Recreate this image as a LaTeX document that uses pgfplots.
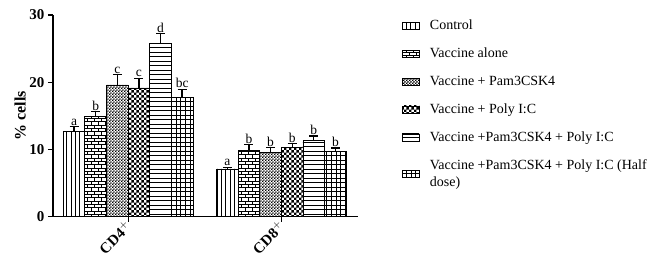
\documentclass[border=0pt]{standalone}
\usepackage{fontspec}
\setmainfont{Liberation Serif}
\usepackage{pgfplots}
\usepackage{pgfplotstable}
\pgfplotsset{compat=1.18}
\usetikzlibrary{patterns}

\pgfdeclarepatternformonly{pvl}{\pgfqpoint{-0.5pt}{-0.5pt}}{\pgfqpoint{4.8pt}{4.8pt}}{\pgfqpoint{4.3pt}{4.3pt}}{%
  \pgfsetlinewidth{0.7pt}%
  \pgfpathmoveto{\pgfqpoint{2.15pt}{-0.5pt}}%
  \pgfpathlineto{\pgfqpoint{2.15pt}{4.8pt}}%
  \pgfusepath{stroke}}
\pgfdeclarepatternformonly{phl}{\pgfqpoint{-0.5pt}{-0.5pt}}{\pgfqpoint{5pt}{5pt}}{\pgfqpoint{4.5pt}{4.5pt}}{%
  \pgfsetlinewidth{0.8pt}%
  \pgfpathmoveto{\pgfqpoint{-0.5pt}{2.25pt}}%
  \pgfpathlineto{\pgfqpoint{5pt}{2.25pt}}%
  \pgfusepath{stroke}}
\pgfdeclarepatternformonly{pgrid}{\pgfqpoint{-0.5pt}{-0.5pt}}{\pgfqpoint{5.2pt}{5pt}}{\pgfqpoint{4.7pt}{4.5pt}}{%
  \pgfsetlinewidth{1pt}%
  \pgfpathmoveto{\pgfqpoint{2.35pt}{-0.5pt}}%
  \pgfpathlineto{\pgfqpoint{2.35pt}{5pt}}%
  \pgfusepath{stroke}%
  \pgfsetlinewidth{0.6pt}%
  \pgfpathmoveto{\pgfqpoint{-0.5pt}{2.25pt}}%
  \pgfpathlineto{\pgfqpoint{5.2pt}{2.25pt}}%
  \pgfusepath{stroke}}
\pgfdeclarepatternformonly{pbrick}{\pgfqpoint{-0.5pt}{-0.5pt}}{\pgfqpoint{7.5pt}{7.1pt}}{\pgfqpoint{7pt}{6.6pt}}{%
  \pgfsetlinewidth{0.6pt}%
  \pgfpathmoveto{\pgfqpoint{-0.5pt}{0pt}}%
  \pgfpathlineto{\pgfqpoint{7.5pt}{0pt}}%
  \pgfpathmoveto{\pgfqpoint{-0.5pt}{3.3pt}}%
  \pgfpathlineto{\pgfqpoint{7.5pt}{3.3pt}}%
  \pgfpathmoveto{\pgfqpoint{0pt}{0pt}}%
  \pgfpathlineto{\pgfqpoint{0pt}{3.3pt}}%
  \pgfpathmoveto{\pgfqpoint{3.5pt}{3.3pt}}%
  \pgfpathlineto{\pgfqpoint{3.5pt}{6.6pt}}%
  \pgfusepath{stroke}}
\pgfdeclarepatternformonly{pfine}{\pgfqpoint{0pt}{0pt}}{\pgfqpoint{2.8pt}{2.8pt}}{\pgfqpoint{2.8pt}{2.8pt}}{%
  \pgfpathrectangle{\pgfqpoint{0pt}{0pt}}{\pgfqpoint{1.4pt}{1.4pt}}%
  \pgfpathrectangle{\pgfqpoint{1.4pt}{1.4pt}}{\pgfqpoint{1.4pt}{1.4pt}}%
  \pgfusepath{fill}}
\pgfdeclarepatternformonly{pcheck}{\pgfqpoint{0pt}{0pt}}{\pgfqpoint{5.4pt}{5.4pt}}{\pgfqpoint{5.4pt}{5.4pt}}{%
  \pgfpathrectangle{\pgfqpoint{0pt}{0pt}}{\pgfqpoint{2.7pt}{2.7pt}}%
  \pgfpathrectangle{\pgfqpoint{2.7pt}{2.7pt}}{\pgfqpoint{2.7pt}{2.7pt}}%
  \pgfusepath{fill}}

\pgfplotstableread{
x y err lab
0 12.65 0.75 a
1 7.1 0.25 a
}\tA
\pgfplotstableread{
x y err lab
0 14.95 0.65 b
1 9.8 0.9 b
}\tB
\pgfplotstableread{
x y err lab
0 19.6 1.5 c
1 9.5 0.8 b
}\tC
\pgfplotstableread{
x y err lab
0 19.15 1.45 c
1 10.3 0.6 b
}\tD
\pgfplotstableread{
x y err lab
0 25.8 1.4 d
1 11.4 0.6 b
}\tE
\pgfplotstableread{
x y err lab
0 17.7 1.25 bc
1 9.65 0.55 b
}\tF

\pgfplotsset{
  mybar/.style={draw=black, line width=0.8pt, fill=white,
    error bars/y dir=plus, error bars/y explicit,
    error bars/error bar style={line width=1.3pt, black},
    error bars/error mark options={rotate=90, mark size=4.5pt, line width=1.3pt, black}},
  mylab/.style={draw=none, fill=none, mark=none, forget plot, nodes near coords,
    point meta=explicit symbolic,
    nodes near coords style={anchor=south, inner sep=1pt, font=\fontsize{13.5}{15}\selectfont, black}},
}

\begin{document}
\begin{tikzpicture}
\path[use as bounding box] (-53pt,-40.3pt) rectangle (597pt,216.7pt);
\begin{axis}[
  at={(0,0)}, anchor=south west,
  ybar, bar width=0.141,
  scale only axis, width=305pt, height=201.7pt,
  xmin=-0.49, xmax=1.5, ymin=0, ymax=30,
  axis x line*=bottom, axis y line*=left,
  axis line style={-, line width=1.2pt, black},
  tick style={line width=1.2pt, black},
  major tick length=5pt, tick align=outside,
  ytick={0,10,20,30},
  xtick={0,1}, xticklabels={CD4$^{+}$, CD8$^{+}$},
  yticklabel style={font=\fontsize{15}{17}\selectfont\bfseries, /pgf/number format/assume math mode=true},
  xticklabel style={font=\fontsize{15}{17}\selectfont\bfseries, rotate=45, anchor=east, xshift=2pt, yshift=-2pt},
  ylabel={\% cells},
  ylabel style={font=\fontsize{16}{18}\selectfont\bfseries, at={(axis description cs:-0.108,0.5)}, anchor=center},
  legend cell align=left,
  legend style={at={(axis description cs:1.143,0.985)}, anchor=north west, draw=none, fill=none,
    inner sep=0pt, row sep=12.8pt, font=\fontsize{14}{16.5}\selectfont, cells={align=left},
    /tikz/every odd column/.append style={column sep=8.5pt}},
  legend image code/.code={\draw[#1, line width=0.6pt] (0pt,-3.5pt) rectangle (17pt,3.5pt);},
]
\addplot[mybar, bar shift=-0.3525, postaction={pattern=pvl}] table[x=x, y=y, y error=err]{\tA};
\addlegendentry{Control}
\addplot[mybar, bar shift=-0.2115, postaction={pattern=pbrick}] table[x=x, y=y, y error=err]{\tB};
\addlegendentry{Vaccine alone}
\addplot[mybar, bar shift=-0.0705, postaction={pattern=pfine}] table[x=x, y=y, y error=err]{\tC};
\addlegendentry{Vaccine + Pam3CSK4}
\addplot[mybar, bar shift=0.0705, postaction={pattern=pcheck}] table[x=x, y=y, y error=err]{\tD};
\addlegendentry{Vaccine + Poly I:C}
\addplot[mybar, bar shift=0.2115, postaction={pattern=phl}] table[x=x, y=y, y error=err]{\tE};
\addlegendentry{Vaccine +Pam3CSK4 + Poly I:C}
\addplot[mybar, bar shift=0.3525, postaction={pattern=pgrid}] table[x=x, y=y, y error=err]{\tF};
\addlegendentry{Vaccine +Pam3CSK4 + Poly I:C (Half\\dose)}

\addplot[mylab, bar shift=-0.3525] table[x=x, y expr=\thisrow{y}+\thisrow{err}, meta=lab]{\tA};
\addplot[mylab, bar shift=-0.2115] table[x=x, y expr=\thisrow{y}+\thisrow{err}, meta=lab]{\tB};
\addplot[mylab, bar shift=-0.0705] table[x=x, y expr=\thisrow{y}+\thisrow{err}, meta=lab]{\tC};
\addplot[mylab, bar shift=0.0705] table[x=x, y expr=\thisrow{y}+\thisrow{err}, meta=lab]{\tD};
\addplot[mylab, bar shift=0.2115] table[x=x, y expr=\thisrow{y}+\thisrow{err}, meta=lab]{\tE};
\addplot[mylab, bar shift=0.3525] table[x=x, y expr=\thisrow{y}+\thisrow{err}, meta=lab]{\tF};
\end{axis}
\end{tikzpicture}
\end{document}
